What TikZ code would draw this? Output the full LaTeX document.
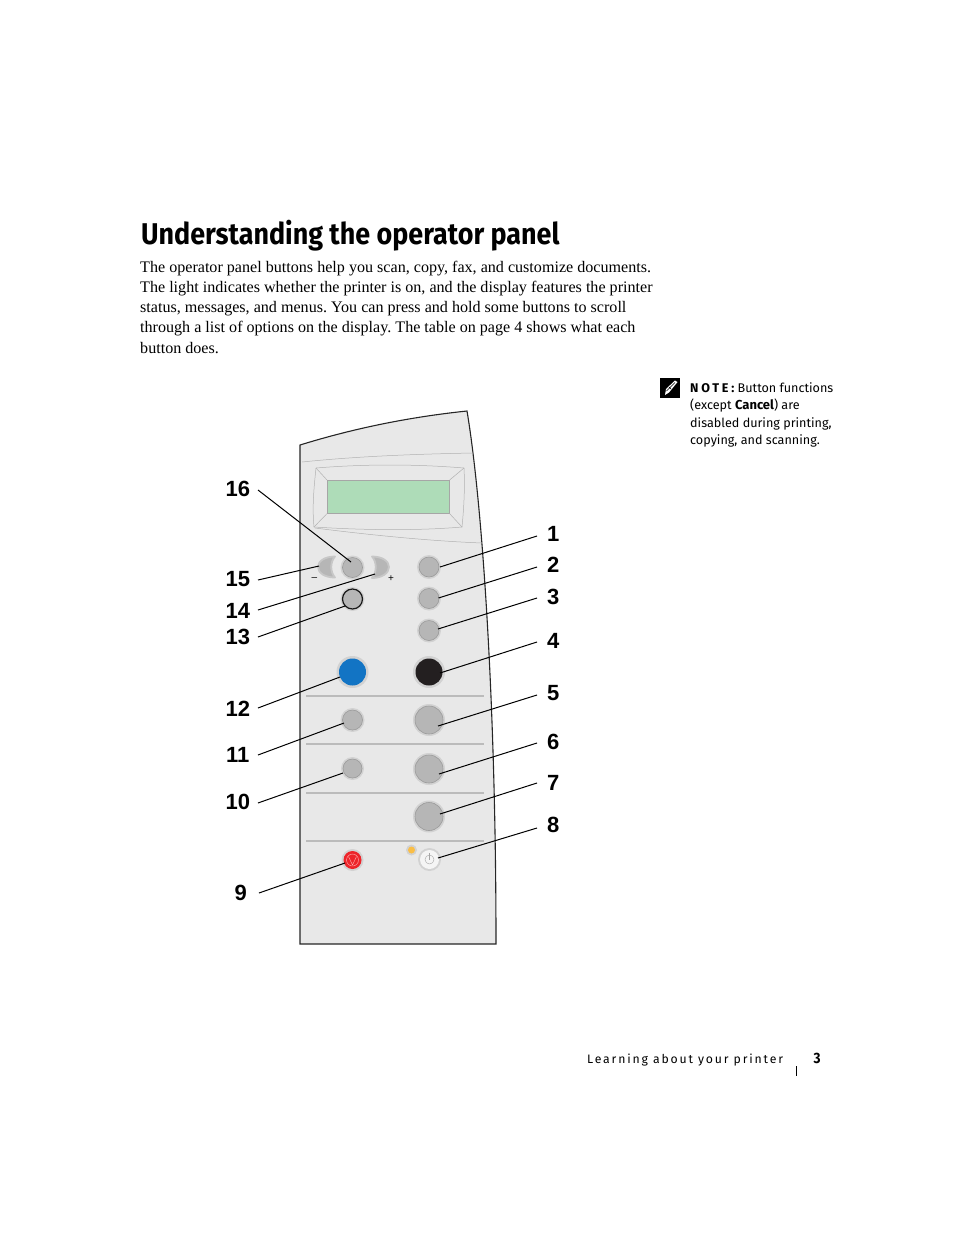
\documentclass[tikz,border=0pt]{standalone}
\usepackage{fontspec}
\usepackage{tikz}
\usetikzlibrary{positioning}
\setmainfont{Liberation Serif}
\newfontfamily\titlefont[FakeStretch=0.897]{Fira Sans}
\newfontfamily\notefont{Fira Sans}
\newfontfamily\notehead[LetterSpace=22]{Fira Sans}
\newfontfamily\footfont[LetterSpace=15]{Fira Sans}
\newfontfamily\numfont{Liberation Sans}
\definecolor{panelgray}{HTML}{E8E8E8}
\definecolor{btngray}{HTML}{B6B6B6}
\definecolor{btnedge}{HTML}{9A9A9A}
\definecolor{halogray}{HTML}{D2D2D2}
\definecolor{lcdgreen}{HTML}{AEDCB8}
\definecolor{rulegray}{HTML}{BBBBBB}
\begin{document}
\frenchspacing
\begin{tikzpicture}[
x=1pt, y=-1pt,
btn/.style={circle, inner sep=0pt, minimum size=#1, fill=btngray, draw=btnedge, line width=.6pt},
halo/.style={circle, inner sep=0pt, minimum size=#1, fill=halogray},
rnum/.style={anchor=west, inner sep=0pt, minimum width=32pt, font=\numfont\bfseries\fontsize{22}{22}\selectfont},
lnum/.style={anchor=east, inner sep=0pt, minimum width=40pt, font=\numfont\bfseries\fontsize{22}{22}\selectfont},
callout/.style={draw=black, line width=1pt},
sep/.style={draw=rulegray, line width=1.4pt},
thinline/.style={draw=black!30, line width=.5pt},
crescent/.style={fill=btngray, draw=black!22, line width=1.8pt, line join=round}
]
\useasboundingbox (0,0) rectangle (954,1235);

\node[anchor=base west, inner sep=0pt, font=\titlefont\bfseries\fontsize{30}{30}\selectfont] (title) at (141,244) {Understanding the operator panel};
\node[anchor=north west, inner sep=0pt, align=left, font=\fontsize{16.1}{20.25}\selectfont] (body) at (140,260.5) {The operator panel buttons help you scan, copy, fax, and customize documents.\\
The light indicates whether the printer is on, and the display features the printer\\
status, messages, and menus. You can press and hold some buttons to scroll\\
through a list of options on the display. The table on page 4 shows what each\\
button does.};

\node[anchor=north west, inner sep=0pt, minimum size=20pt, fill=black] (icon) at (660,378) {};
\fill[white] (665,395) -- (666,389) -- (675,380.5) -- (677.5,382) -- (669,392.5) -- cycle;
\draw[black, line width=.6pt] (666.5,391) -- (675,382.5) (669,387) -- (671,389);
\node[anchor=north west, inner sep=0pt, align=left, font=\notefont\fontsize{12.6}{17.4}\selectfont] (note) at (690,382.5) {{\notehead\bfseries NOTE:} Button functions\\
(except {\fontsize{13}{17.4}\selectfont\bfseries Cancel}) are\\
disabled during printing,\\
copying, and scanning.};

\path[fill=panelgray, draw=black!85, line width=1.1pt] (300,445) .. controls (355,428) and (410,417) .. (467,411)
  .. controls (482,500) and (496,700) .. (496,944) -- (300,944) -- cycle;
\draw[thinline] (302,462) .. controls (360,456) and (420,454) .. (473,453);
\draw[thinline] (315,528) .. controls (370,535) and (430,541) .. (482,543);

\path[thinline, fill=panelgray] (316,468) .. controls (365,464) and (415,464) .. (464,468)
  .. controls (465,487) and (464,507) .. (462,527)
  .. controls (415,531) and (362,530) .. (314,527)
  .. controls (312,507) and (314,487) .. cycle;
\node[anchor=north west, inner sep=0pt, minimum width=122pt, minimum height=33pt, fill=lcdgreen, draw=black!35, line width=.6pt] (lcd) at (327,480) {};
\draw[thinline] (316,468) -- (lcd.north west) (464,468) -- (lcd.north east) (462,527) -- (lcd.south east) (314,527) -- (lcd.south west);

\draw[sep] (306,696) -- (484,696);
\draw[sep] (306,744) -- (484,744);
\draw[sep] (306,793) -- (484,793);
\draw[sep] (306,841) -- (484,841);

\path[crescent] (335,556.5) .. controls (325,556.5) and (318,561) .. (318,567) .. controls (318,573) and (325,577.5) .. (335,577.5)
  .. controls (330,572) and (330,562) .. cycle;
\path[crescent] (372,556.5) .. controls (382,556.5) and (389,561) .. (389,567) .. controls (389,573) and (382,578) .. (372,578)
  .. controls (377,572) and (377,562) .. cycle;
\coordinate (b15) at (319,566);
\coordinate (b14) at (375,574);
\node[inner sep=0pt, font=\numfont\fontsize{10}{10}\selectfont] (minus) at (314.5,579.5) {\textendash};
\node[inner sep=0pt, font=\numfont\fontsize{10}{10}\selectfont] (plus) at (391,579) {+};

\node[halo=24pt] at (352.5,567.5) {};
\node[btn=20pt] (b16) at (352.5,567.5) {};
\node[halo=24pt] at (352.5,599) {};
\node[btn=20pt, draw=black!90, line width=1.2pt] (b13) at (352.5,599) {};
\node[halo=32pt] at (352.5,672) {};
\node[btn=27pt, fill={rgb,255:red,18;green,116;blue,196}, draw=none] (b12) at (352.5,672) {};
\node[halo=24pt] at (352.5,720) {};
\node[btn=20pt] (b11) at (352.5,720) {};
\node[halo=23pt] at (352.5,768.5) {};
\node[btn=19pt] (b10) at (352.5,768.5) {};
\node[halo=22pt] at (352.5,860) {};
\node[btn=18pt, fill={rgb,255:red,237;green,36;blue,42}, draw=none] (b9) at (352.5,860) {};
\draw[white!70!red, line width=.4pt] (b9.center) circle (6pt);
\draw[white!70!red, line width=.4pt] (348.5,856.5) -- (352.5,865) -- (356.5,856.5);

\node[halo=24pt] at (429,567) {};
\node[btn=20pt] (b1) at (429,567) {};
\node[halo=24pt] at (429,598.5) {};
\node[btn=20pt] (b2) at (429,598.5) {};
\node[halo=24pt] at (429,630.5) {};
\node[btn=20pt] (b3) at (429,630.5) {};
\node[halo=32pt] at (429,672) {};
\node[btn=27pt, fill={rgb,255:red,35;green,31;blue,32}, draw=none] (b4) at (429,672) {};
\node[halo=32pt] at (429,720) {};
\node[btn=28pt] (b5) at (429,720) {};
\node[halo=32pt] at (429,769) {};
\node[btn=28pt] (b6) at (429,769) {};
\node[halo=32pt] at (429,816.5) {};
\node[btn=28pt] (b7) at (429,816.5) {};
\node[halo=23pt] at (429.5,859.5) {};
\node[btn=19pt, fill=white!96!black, draw=none] (b8) at (429.5,859.5) {};
\draw[black!35, line width=.4pt] (b8.center) circle (4.5pt);
\draw[black!35, line width=.4pt] (429.5,853) -- (429.5,859.5);
\node[halo=11pt] at (411.5,850) {};
\node[btn=7pt, fill={rgb,255:red,250;green,190;blue,70}, draw=none] (led) at (411.5,850) {};

\node[rnum] (n1) at (537,534) {1};
\node[rnum] (n2) at (537,565) {2};
\node[rnum] (n3) at (537,597) {3};
\node[rnum] (n4) at (537,641) {4};
\node[rnum] (n5) at (537,693) {5};
\node[rnum] (n6) at (537,742) {6};
\node[rnum] (n7) at (537,783) {7};
\node[rnum] (n8) at (537,825) {8};
\node[lnum] (n16) at (258,489) {16};
\node[lnum] (n15) at (258,579) {15};
\node[lnum] (n14) at (258,611) {14};
\node[lnum] (n13) at (258,637) {13};
\node[lnum] (n12) at (258,709) {12};
\node[lnum] (n11) at (258,755) {11};
\node[lnum] (n10) at (258,802) {10};
\node[lnum, minimum width=36pt] (n9) at (259,893) {9};

\draw[callout] ([yshift=-2pt]n1.west) -- ([shift={(11,0)}]b1.center);
\draw[callout] ([yshift=-2pt]n2.west) -- ([shift={(9.5,-0.5)}]b2.center);
\draw[callout] ([yshift=-1pt]n3.west) -- ([shift={(9,-1.5)}]b3.center);
\draw[callout] ([yshift=-1pt]n4.west) -- ([shift={(11,1)}]b4.center);
\draw[callout] ([yshift=-2pt]n5.west) -- ([shift={(9,6)}]b5.center);
\draw[callout] ([yshift=-1pt]n6.west) -- ([shift={(10,5)}]b6.center);
\draw[callout] (n7.west) -- ([shift={(11,-2.5)}]b7.center);
\draw[callout] ([yshift=-3pt]n8.west) -- ([shift={(8.5,-1.5)}]b8.center);
\draw[callout] (n9.east) -- ([shift={(-7.5,3)}]b9.center);
\draw[callout] ([yshift=-1pt]n10.east) -- ([shift={(-9.5,4.5)}]b10.center);
\draw[callout] (n11.east) -- ([shift={(-8.5,3)}]b11.center);
\draw[callout] ([yshift=1pt]n12.east) -- ([shift={(-12.5,5)}]b12.center);
\draw[callout] (n13.east) -- ([shift={(-7.5,7)}]b13.center);
\draw[callout] ([yshift=1pt]n14.east) -- (b14);
\draw[callout] ([yshift=-1pt]n15.east) -- (b15);
\draw[callout] ([yshift=-1pt]n16.east) -- ([shift={(-1.5,-5.5)}]b16.center);

\node[anchor=base west, inner sep=0pt, font=\footfont\fontsize{12.25}{12}\selectfont] (foot) at (587,1063) {Learning about your printer};
\node[inner sep=0pt, font=\titlefont\bfseries\fontsize{15}{15}\selectfont] (pageno) at (817,1058) {3};
\coordinate (ticktop) at (796.5,1066);
\coordinate (tickend) at (796.5,1076);
\draw[black, line width=.8pt] (ticktop) -- (tickend);
\end{tikzpicture}
\end{document}
